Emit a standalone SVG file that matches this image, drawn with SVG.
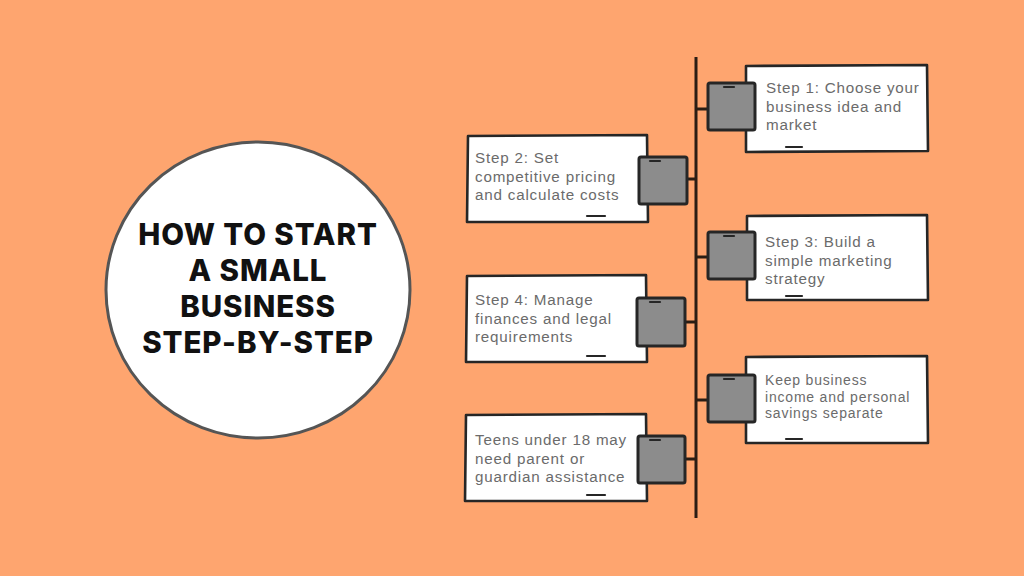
<svg xmlns="http://www.w3.org/2000/svg" width="1024" height="576" viewBox="0 0 1024 576">
<style>
.box{fill:#fff;stroke:#262626;stroke-width:2.6;stroke-linejoin:round}
.sq{fill:#8c8c8c;stroke:#262626;stroke-width:3;stroke-linejoin:round}
.dash{stroke:#262626;stroke-width:2.2;stroke-linecap:round}
.t{font-family:"Liberation Sans",Arial,sans-serif;font-size:15.2px;letter-spacing:0.8px;fill:#6b6b6b}
.ts{font-size:14px;letter-spacing:0.8px}
.title{font-family:"Inter","Liberation Sans",sans-serif;font-weight:800;font-size:29.5px;letter-spacing:0.9px;fill:#111;text-anchor:middle}
.ln{stroke:#2a1d14;stroke-width:3;fill:none}
</style>
<rect width="1024" height="576" fill="#FEA56F"/>
<g id="title-circle">
<ellipse cx="258" cy="290" rx="152" ry="148" fill="#fff" stroke="#555" stroke-width="3"/>
<text class="title" x="258" y="245">HOW TO START</text>
<text class="title" x="258" y="281">A SMALL</text>
<text class="title" x="258" y="317">BUSINESS</text>
<text class="title" x="258" y="353">STEP-BY-STEP</text>
</g>
<g id="connectors">
<line class="ln" x1="696" y1="57" x2="696" y2="518"/>
<line class="ln" x1="696" y1="109" x2="708" y2="109"/>
<line class="ln" x1="686" y1="179" x2="696" y2="179"/>
<line class="ln" x1="696" y1="257" x2="708" y2="257"/>
<line class="ln" x1="685" y1="322" x2="696" y2="322"/>
<line class="ln" x1="696" y1="400" x2="708" y2="400"/>
<line class="ln" x1="685" y1="459" x2="696" y2="459"/>
</g>
<g id="step1">
<path class="box" d="M746 66 L927 65 L928 151 L746 152 Z"/>
<rect class="sq" x="708" y="83" width="47" height="47" rx="2"/>
<line class="dash" x1="724" y1="87" x2="734" y2="87"/>
<line class="dash" x1="786" y1="147" x2="802" y2="147"/>
<text class="t" x="766" y="93">Step 1: Choose your</text>
<text class="t" x="766" y="111.5">business idea and</text>
<text class="t" x="766" y="130">market</text>
</g>
<g id="step2">
<path class="box" d="M468 136 L647 135 L648 222 L467 222 Z"/>
<rect class="sq" x="639" y="157" width="48" height="47" rx="2"/>
<line class="dash" x1="650" y1="161" x2="660" y2="161"/>
<line class="dash" x1="587" y1="216" x2="605" y2="216"/>
<text class="t" x="475" y="163">Step 2: Set</text>
<text class="t" x="475" y="181.5">competitive pricing</text>
<text class="t" x="475" y="200">and calculate costs</text>
</g>
<g id="step3">
<path class="box" d="M747 216 L927 215 L928 300 L747 300 Z"/>
<rect class="sq" x="708" y="232" width="47" height="47" rx="2"/>
<line class="dash" x1="724" y1="236" x2="734" y2="236"/>
<line class="dash" x1="786" y1="296" x2="802" y2="296"/>
<text class="t" x="765" y="247">Step 3: Build a</text>
<text class="t" x="765" y="265.5">simple marketing</text>
<text class="t" x="765" y="284">strategy</text>
</g>
<g id="step4">
<path class="box" d="M467 276 L646 275 L647 362 L466 362 Z"/>
<rect class="sq" x="637" y="298" width="48" height="48" rx="2"/>
<line class="dash" x1="650" y1="302" x2="660" y2="302"/>
<line class="dash" x1="587" y1="356" x2="605" y2="356"/>
<text class="t" x="475" y="305">Step 4: Manage</text>
<text class="t" x="475" y="323.5">finances and legal</text>
<text class="t" x="475" y="342">requirements</text>
</g>
<g id="step5">
<path class="box" d="M746 357 L927 356 L928 443 L746 443 Z"/>
<rect class="sq" x="708" y="375" width="47" height="47" rx="2"/>
<line class="dash" x1="724" y1="379" x2="734" y2="379"/>
<line class="dash" x1="786" y1="439" x2="802" y2="439"/>
<text class="t ts" x="765" y="385">Keep business</text>
<text class="t ts" x="765" y="401.5">income and personal</text>
<text class="t ts" x="765" y="418">savings separate</text>
</g>
<g id="step6">
<path class="box" d="M466 415 L646 414 L647 501 L465 501 Z"/>
<rect class="sq" x="638" y="436" width="47" height="47" rx="2"/>
<line class="dash" x1="650" y1="440" x2="660" y2="440"/>
<line class="dash" x1="587" y1="495" x2="605" y2="495"/>
<text class="t" x="475" y="445">Teens under 18 may</text>
<text class="t" x="475" y="463.5">need parent or</text>
<text class="t" x="475" y="482">guardian assistance</text>
</g>
</svg>
